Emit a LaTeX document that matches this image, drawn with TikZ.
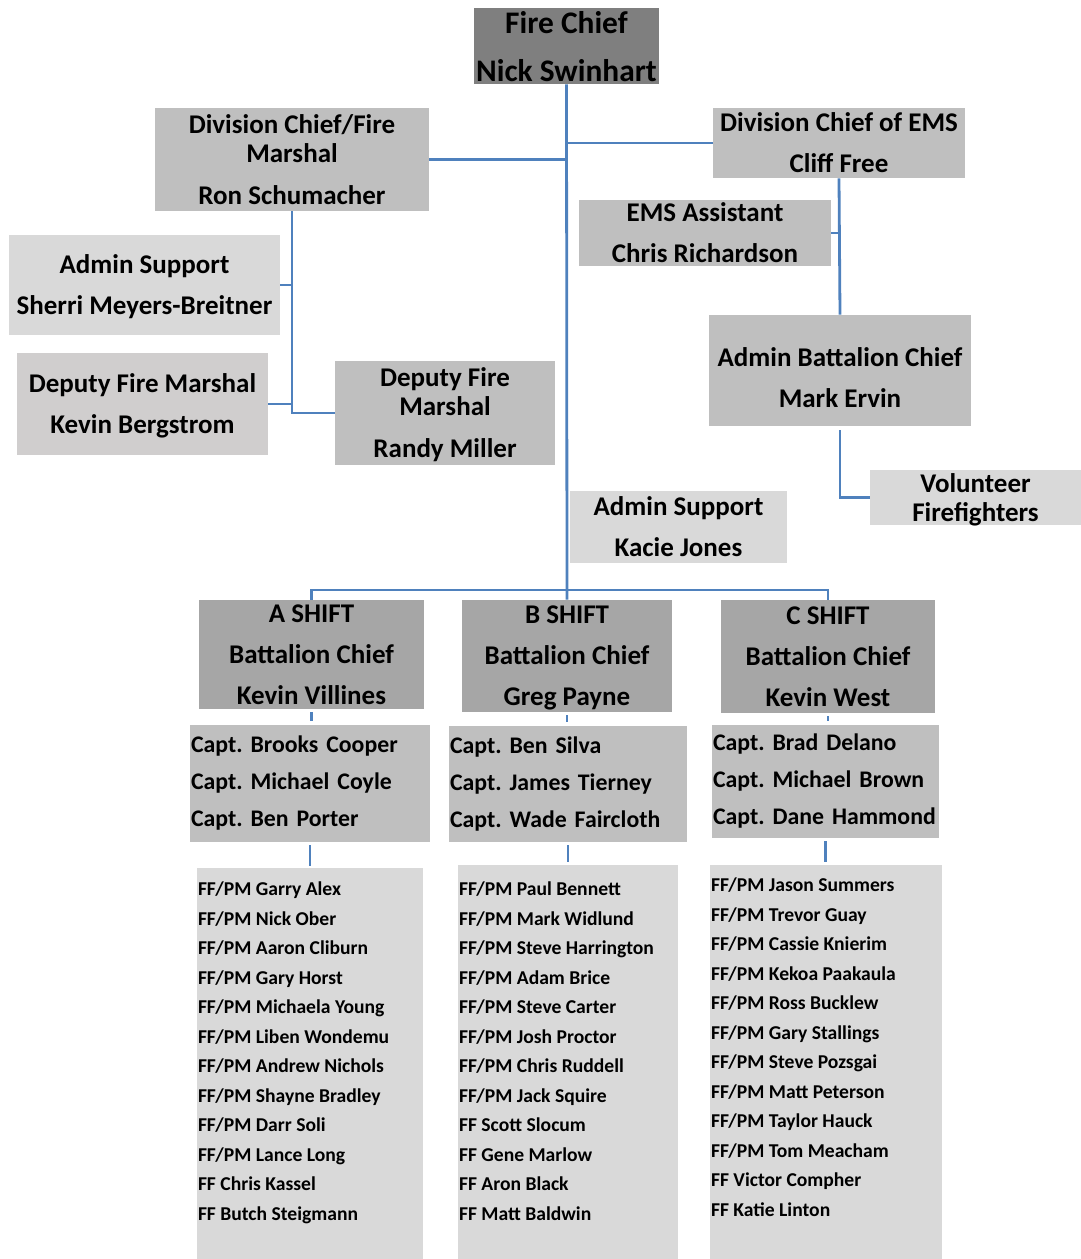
\documentclass[tikz,border=0pt]{standalone}
\usepackage{fontspec}
\setmainfont{Carlito}
\frenchspacing
\definecolor{orgblue}{HTML}{4F81BD}
\definecolor{chiefgray}{HTML}{7F7F7F}
\definecolor{shiftgray}{HTML}{A6A6A6}
\definecolor{midgray}{HTML}{BFBFBF}
\definecolor{palegray}{HTML}{D9D9D9}
\definecolor{dfmgray}{HTML}{D0CECE}
\tikzset{
  box/.style={rectangle, inner sep=0pt, align=center, text depth=0pt, font=\bfseries\fontsize{13.5}{20.5}\selectfont},
  boxsize/.style 2 args={minimum width=#1*0.5pt, minimum height=#2*0.5pt},
  capbox/.style 2 args={rectangle, inner xsep=0.5pt, inner ysep=0pt, align=left, fill=midgray,
    text width=#1*0.5pt-1pt, minimum height=#2*0.5pt, font=\bfseries\fontsize{11.9}{18.5}\selectfont},
  fflist/.style={anchor=north west, inner sep=0pt, align=left, font=\bfseries\fontsize{9.8}{14.75}\selectfont},
  orgline/.style={draw=orgblue, line width=1.4pt},
}
\begin{document}
\begin{tikzpicture}[x=0.5pt,y=-0.5pt]
  \useasboundingbox (0,0) rectangle (1081,1259);
  % top of the chart
  \node[box, boxsize={185}{76}, fill=chiefgray, font=\bfseries\fontsize{15.7}{24}\selectfont] (chief) at (566.5,46) {Fire Chief\\Nick Swinhart};
  \node[box, boxsize={274}{103}, fill=midgray] (dcfm) at (292,159.5) {Division Chief/Fire\\[-6pt]Marshal\\[0.5pt]Ron Schumacher};
  \node[box, boxsize={252}{70}, fill=midgray] (dcems) at (839,143) {Division Chief of EMS\\Cliff Free};
  \node[box, boxsize={252}{66}, fill=midgray] (emsa) at (705,233) {EMS Assistant\\Chris Richardson};
  \node[box, boxsize={271}{100}, fill=palegray] (sherri) at (144.5,285) {Admin Support\\Sherri Meyers-Breitner};
  \node[box, boxsize={251}{102}, fill=dfmgray] (kevin) at (142.5,404) {Deputy Fire Marshal\\Kevin Bergstrom};
  \node[box, boxsize={220}{104}, fill=midgray] (randy) at (445,413) {Deputy Fire\\[-6pt]Marshal\\[0.5pt]Randy Miller};
  \node[box, boxsize={262}{111}, fill=midgray] (abc) at (840,370.5) {\rule{0pt}{16.5pt}Admin Battalion Chief\\Mark Ervin};
  \node[box, boxsize={211}{55}, fill=palegray, font=\bfseries\fontsize{13.5}{14.5}\selectfont] (vol) at (975.5,497.5) {Volunteer\\Firefighters};
  \node[box, boxsize={217}{72}, fill=palegray] (kacie) at (678.5,527) {Admin Support\\Kacie Jones};
  % shifts
  \node[box, boxsize={225}{109}, fill=shiftgray] (shA) at (311.5,654.5) {A SHIFT\\Battalion Chief\\Kevin Villines};
  \node[box, boxsize={210}{112}, fill=shiftgray] (shB) at (567,656) {B SHIFT\\Battalion Chief\\Greg Payne};
  \node[box, boxsize={214}{113}, fill=shiftgray] (shC) at (828,656.5) {C SHIFT\\Battalion Chief\\Kevin West};
  \node[capbox={240}{117}] (capA) at (310,783.5) {Capt. Brooks Cooper\\Capt. Michael Coyle\\Capt. Ben Porter};
  \node[capbox={238}{116}] (capB) at (568,784) {Capt. Ben Silva\\Capt. James Tierney\\Capt. Wade Faircloth};
  \node[capbox={227}{113}] (capC) at (825.5,781.5) {Capt. Brad Delano\\Capt. Michael Brown\\Capt. Dane Hammond};
  \node[box, boxsize={226}{391}, fill=palegray] (ffA) at (310,1063.5) {};
  \node[box, boxsize={220}{394}, fill=palegray] (ffB) at (568,1062) {};
  \node[box, boxsize={232}{394}, fill=palegray] (ffC) at (826,1062) {};
  \node[fflist] (ffAtext) at ([xshift=0.5pt,yshift=-7pt]ffA.north west) {FF/PM Garry Alex\\FF/PM Nick Ober\\FF/PM Aaron Cliburn\\FF/PM Gary Horst\\FF/PM Michaela Young\\FF/PM Liben Wondemu\\FF/PM Andrew Nichols\\FF/PM Shayne Bradley\\FF/PM Darr Soli\\FF/PM Lance Long\\FF Chris Kassel\\FF Butch Steigmann};
  \node[fflist] (ffBtext) at ([xshift=0.5pt,yshift=-8.5pt]ffB.north west) {FF/PM Paul Bennett\\FF/PM Mark Widlund\\FF/PM Steve Harrington\\FF/PM Adam Brice\\FF/PM Steve Carter\\FF/PM Josh Proctor\\FF/PM Chris Ruddell\\FF/PM Jack Squire\\FF Scott Slocum\\FF Gene Marlow\\FF Aron Black\\FF Matt Baldwin};
  \node[fflist] (ffCtext) at ([xshift=0.5pt,yshift=-6.5pt]ffC.north west) {FF/PM Jason Summers\\FF/PM Trevor Guay\\FF/PM Cassie Knierim\\FF/PM Kekoa Paakaula\\FF/PM Ross Bucklew\\FF/PM Gary Stallings\\FF/PM Steve Pozsgai\\FF/PM Matt Peterson\\FF/PM Taylor Hauck\\FF/PM Tom Meacham\\FF Victor Compher\\FF Katie Linton};
  % connectors
  \coordinate (bar) at (567,590);
  \draw[orgline] (chief.south) -- (shB.north);
  \draw[orgline] (dcfm.east) -- (dcfm.east -| chief.south);
  \draw[orgline] (dcems.west) -- (dcems.west -| chief.south);
  \draw[orgline] (dcfm.south) |- (randy.west);
  \draw[orgline] (sherri.east) -- (sherri.east -| dcfm.south);
  \draw[orgline] (kevin.east) -- (kevin.east -| dcfm.south);
  \draw[orgline] (dcems.south) -- (abc.north);
  \draw[orgline] (emsa.east) -- (emsa.east -| dcems.south);
  \draw[orgline, shorten <=2pt] (abc.south) |- (vol.west);
  \draw[orgline] (shA.north) |- (bar) -| (shC.north);
  \draw[orgline, shorten <=1.5pt, shorten >=2pt] (shA.south) -- (shA.south |- capA.north);
  \draw[orgline, shorten <=1.5pt, shorten >=2pt] (shB.south) -- (shB.south |- capB.north);
  \draw[orgline, shorten <=1.5pt, shorten >=2pt] (shC.south) -- (shC.south |- capC.north);
  \draw[orgline, shorten <=1.5pt, shorten >=1pt] (capA.south) -- (capA.south |- ffA.north);
  \draw[orgline, shorten <=1.5pt, shorten >=1.5pt] (capB.south) -- (capB.south |- ffB.north);
  \draw[orgline, shorten <=1.5pt, shorten >=1.5pt] (capC.south) -- (capC.south |- ffC.north);
\end{tikzpicture}
\end{document}
